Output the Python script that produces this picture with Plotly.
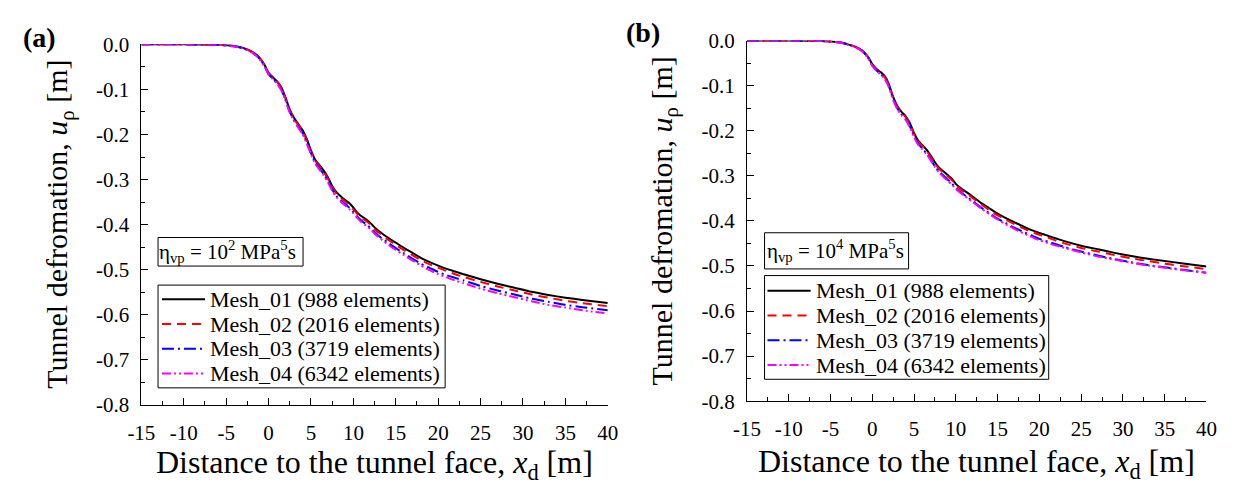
import plotly.graph_objects as go

# ---------------- data ----------------
x_d = [-15, -10, -6, -4, -3, -2, -1.2, -0.5,
       0, 0.5, 1, 1.5, 2, 2.5, 3, 3.5, 4, 4.5, 5, 5.5, 6, 6.5, 7, 7.5, 8, 8.5, 9, 9.5,
       10, 10.5, 11, 11.5, 12, 12.5, 13,
       14, 15, 16, 17, 18, 19, 20, 21, 22, 23,
       25, 27, 29, 31, 33, 35, 37, 40]

# panel (a): eta_vp = 10^2 MPa^5 s
a_mesh01 = [0, 0, -0.001, -0.004, -0.008, -0.016, -0.027, -0.045,
            -0.063, -0.073, -0.082, -0.095, -0.118, -0.145, -0.163, -0.177, -0.190, -0.210, -0.235, -0.256,
            -0.268, -0.280, -0.295, -0.314, -0.328, -0.337, -0.345, -0.352,
            -0.362, -0.374, -0.382, -0.388, -0.396, -0.406, -0.414,
            -0.428, -0.440, -0.452, -0.463, -0.474, -0.483, -0.491, -0.498, -0.504, -0.510,
            -0.521, -0.531, -0.540, -0.549, -0.556, -0.562, -0.567, -0.574]
a_mesh02 = [0, 0, -0.001, -0.004, -0.008, -0.016, -0.028, -0.046,
            -0.064, -0.074, -0.083, -0.097, -0.120, -0.147, -0.165, -0.179, -0.192, -0.213, -0.238, -0.258,
            -0.270, -0.283, -0.298, -0.317, -0.331, -0.340, -0.348, -0.356,
            -0.366, -0.377, -0.385, -0.392, -0.400, -0.410, -0.418,
            -0.432, -0.445, -0.457, -0.468, -0.479, -0.488, -0.496, -0.503, -0.510, -0.516,
            -0.527, -0.537, -0.546, -0.555, -0.562, -0.569, -0.574, -0.581]
a_mesh03 = [0, 0, -0.001, -0.004, -0.009, -0.017, -0.029, -0.047,
            -0.066, -0.076, -0.086, -0.100, -0.123, -0.150, -0.168, -0.183, -0.196, -0.217, -0.241, -0.262,
            -0.275, -0.288, -0.303, -0.322, -0.336, -0.346, -0.354, -0.362,
            -0.372, -0.383, -0.392, -0.399, -0.407, -0.417, -0.425,
            -0.439, -0.452, -0.464, -0.476, -0.487, -0.496, -0.505, -0.512, -0.518, -0.524,
            -0.536, -0.546, -0.555, -0.564, -0.571, -0.578, -0.583, -0.590]
a_mesh04 = [0, 0, -0.001, -0.005, -0.009, -0.018, -0.030, -0.048,
            -0.067, -0.077, -0.087, -0.102, -0.125, -0.152, -0.170, -0.185, -0.199, -0.220, -0.244, -0.265,
            -0.278, -0.291, -0.306, -0.325, -0.339, -0.349, -0.357, -0.365,
            -0.375, -0.386, -0.395, -0.402, -0.410, -0.420, -0.428,
            -0.443, -0.456, -0.468, -0.480, -0.491, -0.501, -0.510, -0.517, -0.524, -0.530,
            -0.542, -0.552, -0.561, -0.570, -0.578, -0.584, -0.590, -0.597]

# panel (b): eta_vp = 10^4 MPa^5 s
b_mesh01 = [0, 0, -0.001, -0.004, -0.008, -0.014, -0.022, -0.036,
            -0.052, -0.063, -0.070, -0.079, -0.097, -0.125, -0.145, -0.158, -0.168, -0.183, -0.205, -0.222,
            -0.232, -0.242, -0.255, -0.270, -0.282, -0.290, -0.298, -0.306,
            -0.318, -0.326, -0.333, -0.339, -0.346, -0.353, -0.360,
            -0.372, -0.384, -0.394, -0.403, -0.412, -0.420, -0.427, -0.433, -0.439, -0.445,
            -0.455, -0.463, -0.471, -0.478, -0.484, -0.489, -0.494, -0.501]
b_mesh02 = [0, 0, -0.001, -0.004, -0.008, -0.014, -0.022, -0.037,
            -0.053, -0.064, -0.071, -0.081, -0.099, -0.127, -0.147, -0.160, -0.170, -0.185, -0.208, -0.224,
            -0.234, -0.245, -0.258, -0.273, -0.285, -0.293, -0.301, -0.309,
            -0.321, -0.329, -0.336, -0.342, -0.349, -0.356, -0.363,
            -0.376, -0.388, -0.398, -0.407, -0.416, -0.424, -0.431, -0.437, -0.444, -0.450,
            -0.460, -0.468, -0.476, -0.483, -0.489, -0.495, -0.500, -0.507]
b_mesh03 = [0, 0, -0.001, -0.004, -0.008, -0.015, -0.023, -0.038,
            -0.055, -0.066, -0.074, -0.084, -0.102, -0.130, -0.150, -0.164, -0.174, -0.190, -0.212, -0.229,
            -0.240, -0.250, -0.264, -0.279, -0.291, -0.299, -0.308, -0.316,
            -0.327, -0.335, -0.342, -0.349, -0.356, -0.363, -0.370,
            -0.383, -0.395, -0.405, -0.415, -0.424, -0.432, -0.440, -0.446, -0.452, -0.458,
            -0.468, -0.477, -0.485, -0.492, -0.498, -0.503, -0.508, -0.515]
b_mesh04 = [0, 0, -0.001, -0.004, -0.009, -0.015, -0.024, -0.039,
            -0.056, -0.067, -0.075, -0.085, -0.104, -0.132, -0.152, -0.166, -0.176, -0.192, -0.214, -0.231,
            -0.242, -0.252, -0.266, -0.281, -0.293, -0.302, -0.311, -0.319,
            -0.329, -0.337, -0.344, -0.351, -0.358, -0.365, -0.372,
            -0.385, -0.397, -0.408, -0.418, -0.427, -0.435, -0.443, -0.449, -0.455, -0.460,
            -0.470, -0.479, -0.486, -0.493, -0.499, -0.504, -0.509, -0.515]

series_names = ["Mesh_01 (988 elements)", "Mesh_02 (2016 elements)",
                "Mesh_03 (3719 elements)", "Mesh_04 (6342 elements)"]
x_tickvals = [-15, -10, -5, 0, 5, 10, 15, 20, 25, 30, 35, 40]
x_ticktext = ["-15", "-10", "-5", "0", "5", "10", "15", "20", "25", "30", "35", "40"]
y_tickvals = [0.0, -0.1, -0.2, -0.3, -0.4, -0.5, -0.6, -0.7, -0.8]
y_ticktext = ["0.0", "-0.1", "-0.2", "-0.3", "-0.4", "-0.5", "-0.6", "-0.7", "-0.8"]

# ---------------- style ----------------
FONT = "Liberation Serif"
colors = ["#000000", "#ff0000", "#0000ff", "#ff00ff"]
dashes = ["solid", "9px,6px", "12px,4px,2px,4px", "9px,3px,2px,3px,2px,3px"]
W, H = 1240, 495

def px_x(p):
    return p / W

def px_y(p):
    return 1 - p / H

fig = go.Figure()
panels = [
    ([a_mesh01, a_mesh02, a_mesh03, a_mesh04], "x", "y"),
    ([b_mesh01, b_mesh02, b_mesh03, b_mesh04], "x2", "y2"),
]
for ys, xa, ya in panels:
    for i, yv in enumerate(ys):
        fig.add_trace(go.Scatter(
            x=x_d, y=yv, mode="lines", name=series_names[i], showlegend=False,
            line=dict(color=colors[i], width=2, dash=dashes[i], shape="spline", smoothing=0.6),
            xaxis=xa, yaxis=ya, cliponaxis=False,
        ))

def xaxis_cfg(domain, anchor):
    return dict(domain=domain, anchor=anchor, range=[-15, 40], showline=True, linecolor="black",
                linewidth=1, mirror=False, showgrid=False, zeroline=False,
                ticks="inside", ticklen=7, tickwidth=1, tickcolor="black",
                tickvals=x_tickvals, ticktext=x_ticktext, ticklabelstandoff=9,
                minor=dict(ticks="inside", ticklen=4, dtick=2.5, tick0=-15, tickcolor="black"),
                tickfont=dict(family=FONT, size=21, color="black"))

def yaxis_cfg(domain, anchor):
    return dict(domain=domain, anchor=anchor, range=[-0.8, 0], showline=True, linecolor="black",
                linewidth=1, mirror=False, showgrid=False, zeroline=False,
                ticks="inside", ticklen=7, tickwidth=1, tickcolor="black",
                tickvals=y_tickvals, ticktext=y_ticktext, ticklabelstandoff=7,
                minor=dict(ticks="inside", ticklen=4, dtick=0.05, tick0=0, tickcolor="black"),
                tickfont=dict(family=FONT, size=21, color="black"))

# panel pixel boxes
A = dict(l=130, r=606, t=34, b=413)
B = dict(l=748, r=1217, t=30, b=409)

fig.update_layout(
    width=W, height=H, margin=dict(l=0, r=0, t=0, b=0),
    paper_bgcolor="white", plot_bgcolor="white",
    font=dict(family=FONT, color="black"),
    xaxis=xaxis_cfg([px_x(A["l"]), px_x(A["r"])], "y"),
    yaxis=yaxis_cfg([px_y(A["b"]), px_y(A["t"])], "x"),
    xaxis2=xaxis_cfg([px_x(B["l"]), px_x(B["r"])], "y2"),
    yaxis2=yaxis_cfg([px_y(B["b"]), px_y(B["t"])], "x2"),
    showlegend=False,
)

shapes = []
ann = []

def box(x0, x1, y0, y1):
    shapes.append(dict(type="rect", xref="paper", yref="paper",
                       x0=px_x(x0), x1=px_x(x1), y0=px_y(y1), y1=px_y(y0),
                       line=dict(color="black", width=1), fillcolor="white", layer="above"))

# eta boxes
box(147, 295, 237, 267)
box(766, 913, 232, 270)
ann.append(dict(text="η<sub>vp</sub> = 10<sup>2</sup> MPa<sup>5</sup>s", x=px_x(218), y=px_y(252),
                xanchor="center", yanchor="middle", font=dict(size=21)))
ann.append(dict(text="η<sub>vp</sub> = 10<sup>4</sup> MPa<sup>5</sup>s", x=px_x(838), y=px_y(251),
                xanchor="center", yanchor="middle", font=dict(size=21)))

# manual legends
def legend(x_box0, x_box1, y_box0, y_box1, rows, line_x0, line_x1, text_x):
    box(x_box0, x_box1, y_box0, y_box1)
    for i, ry in enumerate(rows):
        shapes.append(dict(type="line", xref="paper", yref="paper",
                           x0=px_x(line_x0), x1=px_x(line_x1), y0=px_y(ry), y1=px_y(ry),
                           line=dict(color=colors[i], width=2, dash=dashes[i]), layer="above"))
        ann.append(dict(text=series_names[i], x=px_x(text_x), y=px_y(ry),
                        xanchor="left", yanchor="middle", font=dict(size=22)))

legend(147, 440, 287, 395, [302, 328, 354, 380], 151, 195, 198)
legend(766, 1056, 277, 386, [293, 319, 345, 371], 769, 813, 816)

ytitle = "Tunnel defromation, <i>u</i><sub>ρ</sub> [m]"
xtitle = "Distance to the tunnel face, <i>x</i><sub>d</sub> [m]"
ann.append(dict(text=ytitle, textangle=-90, x=px_x(46), y=px_y((A["t"] + A["b"]) / 2),
                xanchor="center", yanchor="middle", font=dict(size=30)))
ann.append(dict(text=ytitle, textangle=-90, x=px_x(663), y=px_y((B["t"] + B["b"]) / 2),
                xanchor="center", yanchor="middle", font=dict(size=30)))
ann.append(dict(text=xtitle, x=px_x((A["l"] + A["r"]) / 2), y=px_y(476),
                xanchor="center", yanchor="middle", font=dict(size=32)))
ann.append(dict(text=xtitle, x=px_x((B["l"] + B["r"]) / 2), y=px_y(474),
                xanchor="center", yanchor="middle", font=dict(size=32)))
ann.append(dict(text="<b>(a)</b>", x=px_x(26), y=px_y(27), xanchor="center", yanchor="middle",
                font=dict(size=28)))
ann.append(dict(text="<b>(b)</b>", x=px_x(642), y=px_y(22), xanchor="center", yanchor="middle",
                font=dict(size=28)))
for a in ann:
    a.update(xref="paper", yref="paper", showarrow=False)
    a["font"].update(family=FONT, color="black")
fig.update_layout(annotations=ann, shapes=shapes)

fig.write_html("out.html")
